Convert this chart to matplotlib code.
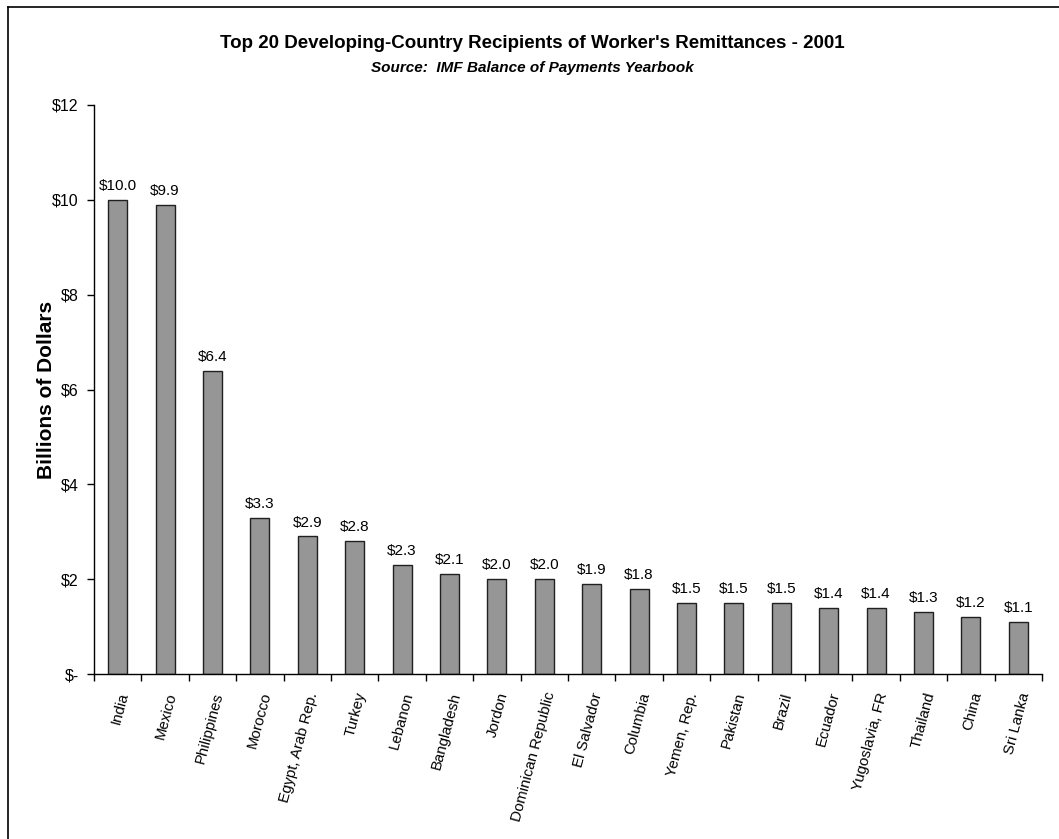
import matplotlib
matplotlib.use("Agg")
import matplotlib.pyplot as plt
from matplotlib.lines import Line2D
from matplotlib.ticker import FixedLocator
import numpy as np

countries = ["India", "Mexico", "Philippines", "Morocco", "Egypt, Arab Rep.", "Turkey",
             "Lebanon", "Bangladesh", "Jordon", "Dominican Republic", "El Salvador",
             "Columbia", "Yemen, Rep.", "Pakistan", "Brazil", "Ecuador", "Yugoslavia, FR",
             "Thailand", "China", "Sri Lanka"]
values = [10.0, 9.9, 6.4, 3.3, 2.9, 2.8, 2.3, 2.1, 2.0, 2.0, 1.9, 1.8, 1.5, 1.5, 1.5,
          1.4, 1.4, 1.3, 1.2, 1.1]
yticks = [0, 2, 4, 6, 8, 10, 12]
ytick_labels = ["$-", "$2", "$4", "$6", "$8", "$10", "$12"]

title = "Top 20 Developing-Country Recipients of Worker's Remittances - 2001"
subtitle = "Source:  IMF Balance of Payments Yearbook"

REG = ["Liberation Sans", "DejaVu Sans"]

fig = plt.figure(figsize=(10.59, 8.39), dpi=100)
fig.patch.set_facecolor("white")

# outer chart-area border (left and top visible)
fig.add_artist(Line2D([8/1059, 8/1059], [0, 1 - 7/839], color="black", lw=1.2, transform=fig.transFigure))
fig.add_artist(Line2D([8/1059, 1], [1 - 7/839, 1 - 7/839], color="black", lw=1.2, transform=fig.transFigure))

left, right = 94/1059, 1042/1059
bottom, top = 1 - 674/839, 1 - 105/839
ax = fig.add_axes([left, bottom, right - left, top - bottom])

x = np.arange(len(countries))
ax.bar(x, values, width=0.4, color="#969696", edgecolor="#202020", linewidth=1.0, zorder=2)

ax.set_xlim(-0.5, len(countries) - 0.5)
ax.set_ylim(0, 12)

for xi, v in zip(x, values):
    ax.annotate(f"${v:.1f}", (xi, v), xytext=(0, 5), textcoords="offset points",
                ha="center", va="bottom", fontsize=11, family=REG)

ax.set_yticks(yticks)
ax.set_yticklabels(ytick_labels, family=REG, fontsize=11.5)
ax.tick_params(axis="y", direction="out", length=5, width=1, pad=6)

ax.set_xticks(x)
ax.set_xticklabels(countries, rotation=75, ha="right", va="top", rotation_mode="anchor",
                   fontsize=10.8, family=REG)
ax.tick_params(axis="x", which="major", length=0, pad=12)
ax.xaxis.set_minor_locator(FixedLocator(np.arange(-0.5, len(countries), 1.0)))
ax.tick_params(axis="x", which="minor", direction="out", length=5, width=1)

for s in ["top", "right"]:
    ax.spines[s].set_visible(False)
ax.spines["left"].set_linewidth(1)
ax.spines["bottom"].set_linewidth(1)

ax.set_ylabel("Billions of Dollars", fontsize=15, fontweight="bold", family=REG)
ax.yaxis.set_label_coords(-0.040, 0.5)

fig.text(532/1059, 1 - 43/839, title, ha="center", va="center", fontsize=13.5,
         fontweight="bold", family=REG)
fig.text(532/1059, 1 - 68/839, subtitle, ha="center", va="center", fontsize=11,
         fontweight="bold", style="italic", family=REG)

fig.savefig("out.png", dpi=100, facecolor="white")
